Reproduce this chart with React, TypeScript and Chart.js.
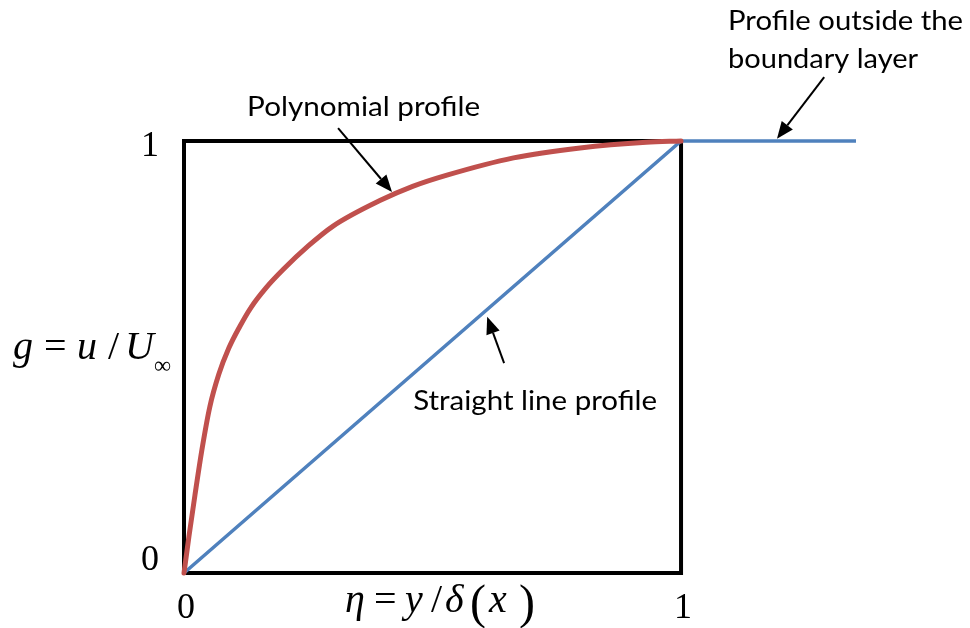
import React, { useEffect, useRef } from "react";
import { Chart, registerables } from "chart.js";
Chart.register(...registerables);

// Polynomial profile g(eta)
const polyEta = [0, 0.01, 0.022, 0.036, 0.052, 0.07, 0.09, 0.112, 0.135, 0.165, 0.2, 0.25, 0.3, 0.394, 0.46, 0.529, 0.663, 0.797, 0.93, 1];
const polyG = [0, 0.085, 0.18, 0.285, 0.385, 0.46, 0.52, 0.57, 0.615, 0.66, 0.703, 0.757, 0.803, 0.862, 0.895, 0.921, 0.961, 0.984, 0.997, 1];
// Straight line profile + outside boundary layer
const lineEta = [0, 1, 1.352];
const lineG = [0, 1, 1];
// Frame
const boxEta = [0, 0, 1, 1, 0];
const boxG = [0, 1, 1, 0, 0];
// Tick labels
const xTicks = [0, 1];
const yTicks = [0, 1];
const xTickLabels = ["0", "1"];
const yTickLabels = ["0", "1"];

const RED = "#C0504D";
const BLUE = "#4F81BD";

type Ann = { text: string; x: number; y: number; w: number };
const labels: Ann[] = [
  { text: "Polynomial profile", x: 0.127, y: 1.058, w: 233 },
  { text: "Straight line profile", x: 0.461, y: 0.377, w: 244 },
  { text: "Profile outside the", x: 1.0946, y: 1.257, w: 235 },
  { text: "boundary layer", x: 1.0946, y: 1.169, w: 190 },
];
const arrows = [
  { from: [0.31, 1.03], to: [0.4185, 0.882] },
  { from: [0.644, 0.486], to: [0.61, 0.593] },
  { from: [1.288, 1.148], to: [1.193, 1.005] },
];

const overlay = {
  id: "overlay",
  afterDatasetsDraw(chart: any) {
    const ctx = chart.ctx as CanvasRenderingContext2D;
    const xs = chart.scales.x;
    const ys = chart.scales.y;
    const px = (v: number) => xs.getPixelForValue(v);
    const py = (v: number) => ys.getPixelForValue(v);
    ctx.save();
    ctx.fillStyle = "#000";
    ctx.strokeStyle = "#000";

    // arrows
    arrows.forEach((a) => {
      const x1 = px(a.from[0]), y1 = py(a.from[1]);
      const x2 = px(a.to[0]), y2 = py(a.to[1]);
      const ang = Math.atan2(y2 - y1, x2 - x1);
      const L = 17, H = 7;
      const bx = x2 - L * Math.cos(ang), by = y2 - L * Math.sin(ang);
      ctx.lineWidth = 2;
      ctx.beginPath();
      ctx.moveTo(x1, y1);
      ctx.lineTo(bx, by);
      ctx.stroke();
      ctx.beginPath();
      ctx.moveTo(x2, y2);
      ctx.lineTo(bx + H * Math.sin(ang), by - H * Math.cos(ang));
      ctx.lineTo(bx - H * Math.sin(ang), by + H * Math.cos(ang));
      ctx.closePath();
      ctx.fill();
    });

    // annotation texts
    ctx.font = "26px Lato";
    ctx.textBaseline = "alphabetic";
    ctx.textAlign = "left";
    labels.forEach((l) => {
      const m = ctx.measureText(l.text).width;
      ctx.save();
      ctx.translate(px(l.x), py(l.y));
      ctx.scale(l.w / m, 1);
      ctx.fillText(l.text, 0, 0);
      ctx.restore();
    });

    // tick labels
    ctx.font = "36px 'Liberation Serif'";
    ctx.textAlign = "right";
    ctx.textBaseline = "middle";
    yTicks.forEach((v, i) => {
      const off = v === 1 ? 6 : -12;
      ctx.fillText(yTickLabels[i], chart.chartArea.left - 25, py(v) + off);
    });
    ctx.textAlign = "center";
    ctx.textBaseline = "alphabetic";
    xTicks.forEach((v, i) => {
      ctx.fillText(xTickLabels[i], px(v) + 2, chart.chartArea.bottom + 45);
    });

    // axis titles
    const seq = (parts: [string, number, number, string][]) => {
      ctx.textAlign = "left";
      parts.forEach(([t, x, y, f]) => {
        ctx.font = f;
        ctx.fillText(t, x, y);
      });
    };
    const it = "italic 40px 'Liberation Serif'";
    const up = "40px 'Liberation Serif'";
    const bY = 359;
    seq([
      ["g", 13, bY, it],
      ["=", 44, bY, up],
      ["u", 77, bY, it],
      ["/", 108, bY, up],
      ["U", 125, bY, it],
      ["\u221E", 154, bY + 14, "24px 'Liberation Serif'"],
    ]);
    const bX = 612;
    seq([
      ["\u03B7", 345, bX, it],
      ["=", 374, bX, up],
      ["y", 405, bX, it],
      ["/", 431, bX, up],
      ["\u03B4", 445, bX, it],
      ["(", 470, bX + 6, "48px 'Liberation Serif'"],
      ["x", 489, bX, it],
      [")", 519, bX + 6, "48px 'Liberation Serif'"],
    ]);
    ctx.restore();
  },
};

export default function App() {
  const ref = useRef<HTMLCanvasElement | null>(null);
  useEffect(() => {
    if (!ref.current) return;
    const chart = new Chart(ref.current, {
      type: "line",
      data: {
        datasets: [
          {
            label: "Polynomial profile",
            data: polyEta.map((x, i) => ({ x, y: polyG[i] })),
            borderColor: RED,
            borderWidth: 5,
            pointRadius: 0,
            cubicInterpolationMode: "monotone",
            clip: false as any,
            borderCapStyle: "round",
          },
          {
            label: "Straight line profile",
            data: lineEta.map((x, i) => ({ x, y: lineG[i] })),
            borderColor: BLUE,
            borderWidth: 3.5,
            pointRadius: 0,
            tension: 0,
            clip: false as any,
          },
          {
            label: "frame",
            data: boxEta.map((x, i) => ({ x, y: boxG[i] })),
            borderColor: "#000",
            borderWidth: 4,
            pointRadius: 0,
            tension: 0,
            clip: false as any,
            borderJoinStyle: "miter",
          },
        ],
      },
      options: {
        responsive: false,
        animation: false,
        devicePixelRatio: 1,
        layout: { padding: { left: 184, right: 114, top: 141, bottom: 55 } },
        plugins: { legend: { display: false }, tooltip: { enabled: false } },
        scales: {
          x: { type: "linear", min: 0, max: 1.352, display: false },
          y: { type: "linear", min: 0, max: 1, display: false },
        },
      },
      plugins: [overlay],
    });
    return () => chart.destroy();
  }, []);
  return (
    <div style={{ position: "absolute", left: 0, top: 0, width: 970, height: 628, background: "#fff" }}>
      <canvas ref={ref} width={970} height={628} style={{ width: 970, height: 628 }} />
    </div>
  );
}
